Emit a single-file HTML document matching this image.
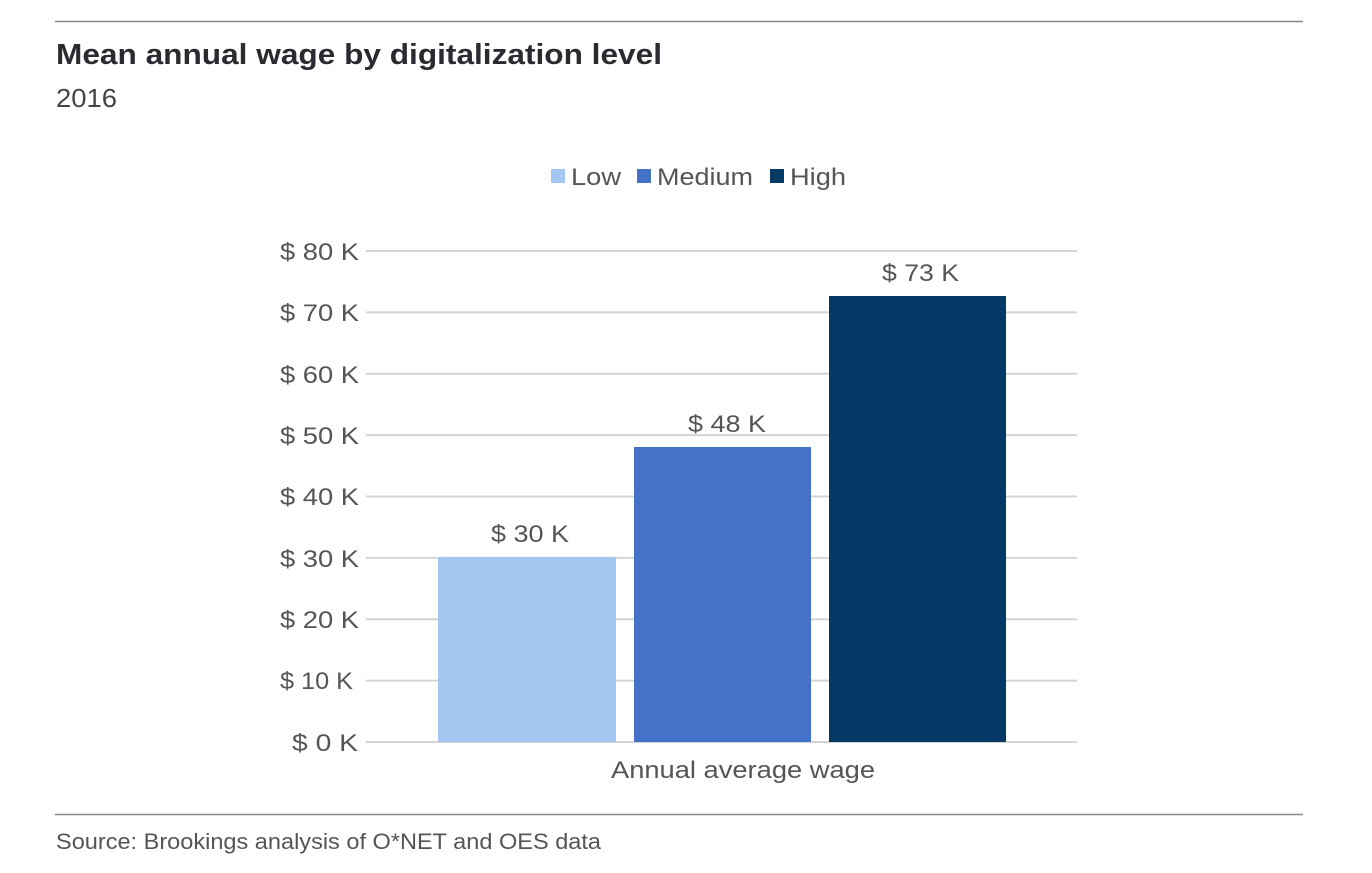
<!DOCTYPE html>
<html><head><style>
body{margin:0;background:#fff;width:1372px;height:868px;overflow:hidden;font-family:"Liberation Sans",sans-serif;}
</style></head><body>
<svg width="1372" height="868" xmlns="http://www.w3.org/2000/svg" font-family="Liberation Sans, sans-serif">
<line x1="55" y1="21.5" x2="1303" y2="21.5" stroke="#888" stroke-width="1.5"/>
<text x="56" y="64" font-size="29" font-weight="bold" fill="#2a2a30" textLength="606" lengthAdjust="spacingAndGlyphs">Mean annual wage by digitalization level</text>
<text x="56" y="107" font-size="26" fill="#444" textLength="61" lengthAdjust="spacingAndGlyphs">2016</text>
<rect x="551" y="169" width="14" height="14" fill="#a3c7f0"/>
<text x="571" y="185" font-size="24" fill="#555" textLength="50" lengthAdjust="spacingAndGlyphs">Low</text>
<rect x="637" y="169" width="14" height="14" fill="#4472c8"/>
<text x="657" y="185" font-size="24" fill="#555" textLength="96" lengthAdjust="spacingAndGlyphs">Medium</text>
<rect x="770" y="169" width="14" height="14" fill="#043865"/>
<text x="790" y="185" font-size="24" fill="#555" textLength="56" lengthAdjust="spacingAndGlyphs">High</text>
<g stroke="#d4d4d4" stroke-width="2">
<line x1="366" y1="251" x2="1077" y2="251"/>
<line x1="366" y1="312.4" x2="1077" y2="312.4"/>
<line x1="366" y1="373.8" x2="1077" y2="373.8"/>
<line x1="366" y1="435.1" x2="1077" y2="435.1"/>
<line x1="366" y1="496.5" x2="1077" y2="496.5"/>
<line x1="366" y1="557.9" x2="1077" y2="557.9"/>
<line x1="366" y1="619.3" x2="1077" y2="619.3"/>
<line x1="366" y1="680.6" x2="1077" y2="680.6"/>
<line x1="366" y1="742" x2="1077" y2="742"/>
</g>
<g font-size="24" fill="#555">
<text x="280" y="260" textLength="79" lengthAdjust="spacingAndGlyphs">$ 80 K</text>
<text x="280" y="321" textLength="79" lengthAdjust="spacingAndGlyphs">$ 70 K</text>
<text x="280" y="383" textLength="79" lengthAdjust="spacingAndGlyphs">$ 60 K</text>
<text x="280" y="444" textLength="79" lengthAdjust="spacingAndGlyphs">$ 50 K</text>
<text x="280" y="505" textLength="79" lengthAdjust="spacingAndGlyphs">$ 40 K</text>
<text x="280" y="567" textLength="79" lengthAdjust="spacingAndGlyphs">$ 30 K</text>
<text x="280" y="628" textLength="79" lengthAdjust="spacingAndGlyphs">$ 20 K</text>
<text x="280" y="689" textLength="73" lengthAdjust="spacingAndGlyphs">$ 10 K</text>
<text x="292" y="751" textLength="66" lengthAdjust="spacingAndGlyphs">$ 0 K</text>
</g>
<rect x="438" y="557" width="178" height="185" fill="#a3c7f0"/>
<rect x="634" y="447" width="177" height="295" fill="#4472c8"/>
<rect x="829" y="296" width="177" height="446" fill="#043865"/>
<g font-size="24" fill="#555">
<text x="491" y="542" textLength="78" lengthAdjust="spacingAndGlyphs">$ 30 K</text>
<text x="688" y="432" textLength="78" lengthAdjust="spacingAndGlyphs">$ 48 K</text>
<text x="882" y="281" textLength="77" lengthAdjust="spacingAndGlyphs">$ 73 K</text>
<text x="611" y="778" textLength="264" lengthAdjust="spacingAndGlyphs">Annual average wage</text>
</g>
<line x1="55" y1="814.5" x2="1303" y2="814.5" stroke="#888" stroke-width="1.5"/>
<text x="56" y="849" font-size="22" fill="#555" textLength="545" lengthAdjust="spacingAndGlyphs">Source: Brookings analysis of O*NET and OES data</text>
</svg>
</body></html>
